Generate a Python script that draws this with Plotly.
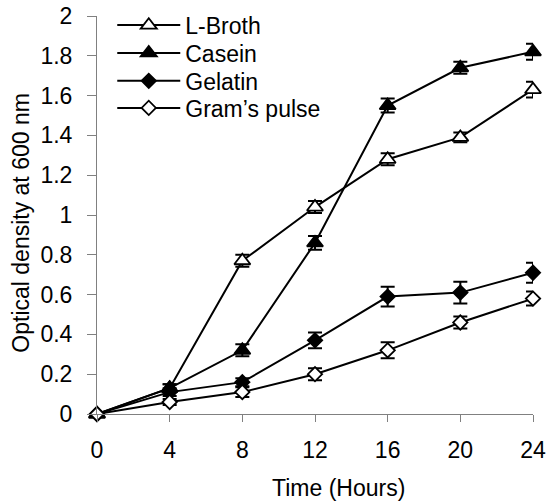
import plotly.graph_objects as go

# Sampling times (hours)
hours = [0, 4, 8, 12, 16, 20, 24]

# Optical density at 600 nm for each growth medium, with standard errors
lbroth = [0.0, 0.13, 0.77, 1.04, 1.28, 1.39, 1.63]
lbroth_err = [0.0, 0.02, 0.03, 0.03, 0.03, 0.025, 0.04]

casein = [0.0, 0.13, 0.32, 0.86, 1.55, 1.74, 1.82]
casein_err = [0.0, 0.02, 0.03, 0.035, 0.035, 0.03, 0.04]

gelatin = [0.0, 0.11, 0.16, 0.37, 0.59, 0.61, 0.71]
gelatin_err = [0.0, 0.02, 0.02, 0.04, 0.05, 0.055, 0.05]

grams = [0.0, 0.06, 0.11, 0.20, 0.32, 0.46, 0.58]
grams_err = [0.0, 0.015, 0.025, 0.03, 0.04, 0.03, 0.035]

y_ticks = [0, 0.2, 0.4, 0.6, 0.8, 1, 1.2, 1.4, 1.6, 1.8, 2]
y_tick_labels = ["0", "0.2", "0.4", "0.6", "0.8", "1", "1.2", "1.4", "1.6", "1.8", "2"]

series = [
    ("L-Broth", lbroth, lbroth_err, "triangle-up", "white", 14),
    ("Casein", casein, casein_err, "triangle-up", "black", 14),
    ("Gelatin", gelatin, gelatin_err, "diamond", "black", 11),
    ("Gram\u2019s pulse", grams, grams_err, "diamond", "white", 11),
]

FONT = "Arial, Liberation Sans, sans-serif"

# one compact legend box per series so the rows can sit tightly stacked
legend_ids = ["legend", "legend2", "legend3", "legend4"]
legend_rows = [0.977, 0.907, 0.837, 0.769]

fig = go.Figure()
for (name, vals, errs, symbol, fill, size), lid in zip(series, legend_ids):
    fig.add_trace(go.Scatter(
        x=hours, y=vals, name=name, mode="lines+markers",
        line=dict(color="black", width=2),
        marker=dict(symbol=symbol, size=size, color=fill,
                    line=dict(color="black", width=1.8)),
        error_y=dict(type="data", array=errs, visible=True,
                     color="black", thickness=2, width=7),
        cliponaxis=False,
        legend=lid,
    ))

legend_layout = {}
for lid, ypos in zip(legend_ids, legend_rows):
    legend_layout[lid] = dict(
        x=0.035, y=ypos, xanchor="left", yanchor="middle",
        bgcolor="rgba(0,0,0,0)", borderwidth=0,
        font=dict(size=23), itemwidth=63,
    )

fig.update_layout(
    width=547, height=504,
    margin=dict(l=97, r=14, t=16, b=90, autoexpand=False),
    paper_bgcolor="white", plot_bgcolor="white",
    font=dict(family=FONT, size=23, color="black"),
    showlegend=True,
    xaxis=dict(range=[0, 24], tickvals=hours, ticktext=[str(h) for h in hours],
               automargin=False,
               showline=True, linecolor="#808080", linewidth=1,
               ticks="outside", ticklen=7, tickcolor="#808080",
               ticklabelstandoff=8,
               showgrid=False, zeroline=False),
    yaxis=dict(range=[0, 2], tickvals=y_ticks, ticktext=y_tick_labels,
               automargin=False,
               showline=True, linecolor="#808080", linewidth=1,
               ticks="outside", ticklen=9, tickcolor="#808080",
               ticklabelstandoff=10,
               showgrid=False, zeroline=False),
    annotations=[
        dict(text="Time (Hours)", xref="paper", yref="paper",
             x=0.555, y=-0.185, xanchor="center", yanchor="middle",
             showarrow=False, font=dict(size=23)),
        dict(text="Optical density at 600 nm", xref="paper", yref="paper",
             x=-0.175, y=0.48, xanchor="center", yanchor="middle",
             textangle=-90, showarrow=False, font=dict(size=23)),
    ],
    **legend_layout,
)

fig.write_html("out.html")
